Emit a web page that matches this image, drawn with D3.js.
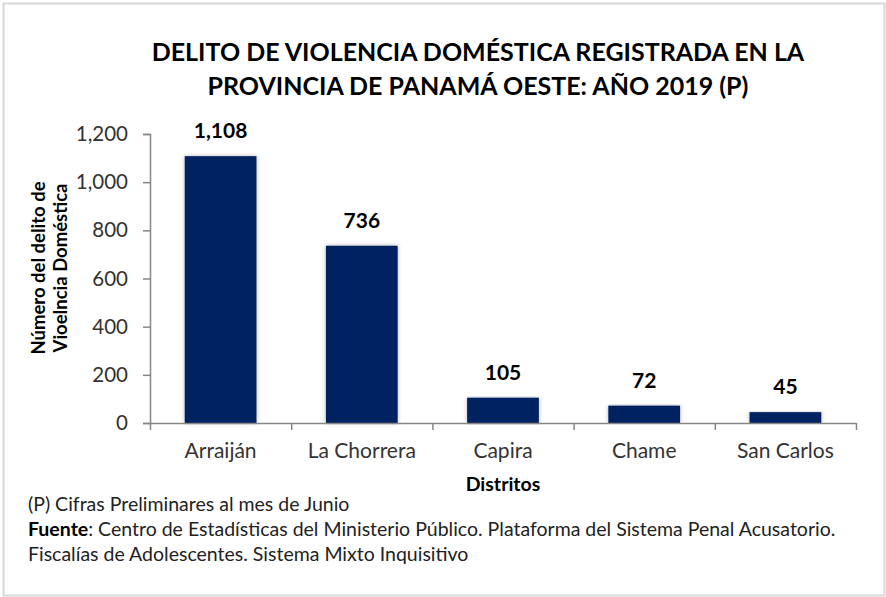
<!DOCTYPE html>
<html><head><meta charset="utf-8">
<script src="https://cdn.jsdelivr.net/npm/d3@7"></script>
<style>
html,body{margin:0;padding:0;background:#fff;}
svg{display:block;font-family:Lato,"Open Sans",sans-serif;}
</style></head>
<body>
<svg id="chart" width="886" height="597"></svg>
<script>
const categories = ["Arraiján", "La Chorrera", "Capira", "Chame", "San Carlos"];
const values = [1108, 736, 105, 72, 45];
const yTicks = [0, 200, 400, 600, 800, 1000, 1200];
const titleLines = ["DELITO DE VIOLENCIA DOMÉSTICA REGISTRADA EN LA", "PROVINCIA DE PANAMÁ OESTE: AÑO 2019 (P)"];
const yTitleLines = ["Número del delito de", "Vioelncia Doméstica"];
const xTitle = "Distritos";
const notes = ["(P) Cifras Preliminares al mes de Junio"];
const sourceBold = "Fuente";
const sourceText = ": Centro de Estadísticas del Ministerio Público. Plataforma del Sistema Penal Acusatorio.";
const sourceText2 = "Fiscalías de Adolescentes. Sistema Mixto Inquisitivo";

const svg = d3.select("#chart");
const fmt = d3.format(",");

// background frame
svg.append("rect").attr("x", 3.5).attr("y", 3.5).attr("width", 881).attr("height", 592)
  .attr("fill", "#fff").attr("stroke", "#d9d9d9").attr("stroke-width", 2);

const defs = svg.append("defs");
const f = defs.append("filter").attr("id", "sh").attr("x", "-20%").attr("y", "-5%").attr("width", "140%").attr("height", "110%");
f.append("feDropShadow").attr("dx", 0).attr("dy", 0).attr("stdDeviation", 2).attr("flood-color", "#000").attr("flood-opacity", 0.3);

const x0 = 150, x1 = 856, yTop = 134, yBot = 423;
const x = d3.scaleBand().domain(categories).range([x0, x1]).paddingInner(0.492).paddingOuter(0.246);
const y = d3.scaleLinear().domain([0, 1200]).range([yBot, yTop]);
const xb = d3.scaleLinear().domain([0, categories.length]).range([x0, x1]);

// title
svg.append("g").selectAll("text").data(titleLines).join("text")
  .attr("x", 478).attr("y", (d, i) => 61 + i * 34)
  .attr("text-anchor", "middle").attr("font-weight", "bold").attr("font-size", 25)
  .attr("fill", "#000").text(d => d);

// bars
svg.append("g").selectAll("rect").data(values).join("rect")
  .attr("x", (d, i) => x(categories[i])).attr("width", x.bandwidth())
  .attr("y", d => y(d)).attr("height", d => y(0) - y(d))
  .attr("fill", "#002060").attr("filter", "url(#sh)");

// value labels
svg.append("g").selectAll("text").data(values).join("text")
  .attr("x", (d, i) => x(categories[i]) + x.bandwidth() / 2)
  .attr("y", d => y(d) - 18)
  .attr("text-anchor", "middle").attr("font-weight", "bold").attr("font-size", 21)
  .attr("fill", "#000").text(d => fmt(d));

// y axis
const ya = svg.append("g").attr("transform", `translate(${x0},0)`)
  .call(d3.axisLeft(y).tickValues(yTicks).tickFormat(fmt).tickSize(7).tickPadding(15));
ya.select(".domain").attr("stroke", "#868686").attr("stroke-width", 1.5);
ya.selectAll(".tick line").attr("stroke", "#868686").attr("stroke-width", 1.5);
ya.selectAll(".tick text").attr("font-size", 20.5).attr("font-family", "Lato").attr("fill", "#333");

// x axis
const xa = svg.append("g").attr("transform", `translate(0,${yBot})`)
  .call(d3.axisBottom(xb).tickValues(d3.range(categories.length + 1)).tickFormat("").tickSizeInner(7).tickSizeOuter(0));
xa.select(".domain").attr("stroke", "#868686").attr("stroke-width", 1.5);
xa.selectAll(".tick line").attr("stroke", "#868686").attr("stroke-width", 1.5);

// category labels
svg.append("g").selectAll("text").data(categories).join("text")
  .attr("x", d => x(d) + x.bandwidth() / 2).attr("y", 458)
  .attr("text-anchor", "middle").attr("font-size", 21).attr("fill", "#333").text(d => d);

// x title
svg.append("text").attr("x", 503).attr("y", 491).attr("text-anchor", "middle")
  .attr("font-weight", "bold").attr("font-size", 19.5).attr("fill", "#000").text(xTitle);

// y title
svg.append("g").attr("transform", "translate(0,268) rotate(-90)")
  .selectAll("text").data(yTitleLines).join("text")
  .attr("x", 0).attr("y", (d, i) => 45 + i * 22)
  .attr("text-anchor", "middle").attr("font-weight", "bold").attr("font-size", 18.5)
  .attr("fill", "#000").text(d => d);

// notes
svg.append("text").attr("x", 28).attr("y", 511).attr("font-size", 19.5).attr("fill", "#222").text(notes[0]);
const s = svg.append("text").attr("x", 28).attr("y", 536).attr("font-size", 19.5).attr("fill", "#222");
s.append("tspan").attr("font-weight", "bold").attr("fill", "#000").text(sourceBold);
s.append("tspan").text(sourceText);
svg.append("text").attr("x", 28).attr("y", 561).attr("font-size", 19.5).attr("fill", "#222").text(sourceText2);
</script>
</body></html>
